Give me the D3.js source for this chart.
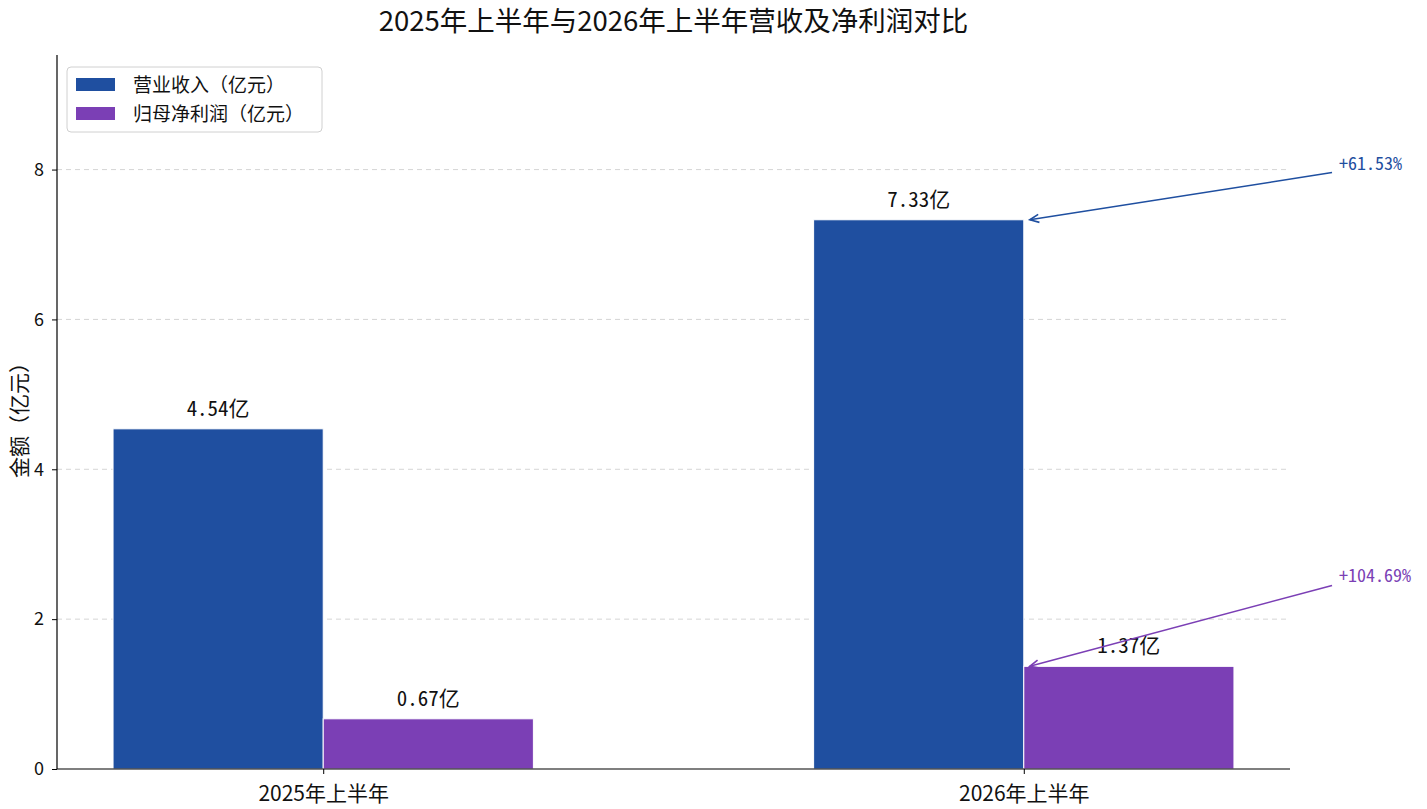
<!DOCTYPE html>
<html>
<head>
<meta charset="utf-8">
<script src="https://cdn.jsdelivr.net/npm/d3@7/dist/d3.min.js"></script>
<style>
  body { margin: 0; background: #fff; }
  svg { font-family: "Noto Sans CJK SC", "DejaVu Sans", sans-serif; }
  .num { font-feature-settings: "hwid" 1; }
</style>
</head>
<body>
<div id="chart"></div>
<script>
var periods = ["2025年上半年", "2026年上半年"];
var seriesNames = ["营业收入（亿元）", "归母净利润（亿元）"];
var revenue = [4.54, 7.33];
var netProfit = [0.67, 1.37];
var growthLabels = ["+61.53%", "+104.69%"];
var yTicks = [0, 2, 4, 6, 8];

var colors = ["#1f4fa0", "#7b3fb5"];

var W = 1427, H = 809;
var margin = {left: 57, top: 55, right: 137, bottom: 40};

var svg = d3.select("#chart").append("svg")
    .attr("width", W)
    .attr("height", H);

var x = d3.scaleLinear()
    .domain([-0.38, 1.38])
    .range([margin.left, W - margin.right]);

var y = d3.scaleLinear()
    .domain([0, d3.max(revenue) * 1.3])
    .range([H - margin.bottom, margin.top]);

var barW = 0.3;

// grid
svg.append("g").selectAll("line")
    .data(yTicks.slice(1))
    .enter().append("line")
    .attr("x1", x.range()[0]).attr("x2", x.range()[1])
    .attr("y1", function(d) { return y(d); })
    .attr("y2", function(d) { return y(d); })
    .attr("stroke", "#cccccc")
    .attr("stroke-width", 1)
    .attr("stroke-dasharray", "5,4")
    .attr("opacity", 0.8);

// bars + value labels
var series = [revenue, netProfit];
series.forEach(function(vals, s) {
    svg.append("g").selectAll("rect")
        .data(vals)
        .enter().append("rect")
        .attr("x", function(d, i) { return x(i - barW + s * barW); })
        .attr("y", function(d) { return y(d); })
        .attr("width", x(barW) - x(0))
        .attr("height", function(d) { return y(0) - y(d); })
        .attr("fill", colors[s])
        .attr("stroke", "#ffffff")
        .attr("stroke-width", 1);

    svg.append("g").selectAll("text")
        .data(vals)
        .enter().append("text")
        .attr("class", "num")
        .attr("x", function(d, i) { return x(i - barW / 2 + s * barW); })
        .attr("y", function(d) { return y(d) - 13; })
        .attr("text-anchor", "middle")
        .style("font-size", "21px")
        .attr("fill", "#111")
        .text(function(d) { return d.toFixed(2) + "亿"; });
});

// axes
var yAxis = d3.axisLeft(y).tickValues(yTicks).tickSize(5).tickPadding(8).tickFormat(d3.format("d"));
var gy = svg.append("g")
    .attr("transform", "translate(" + margin.left + ",0)")
    .call(yAxis);
gy.attr("font-family", null).attr("font-size", null);
gy.select(".domain").attr("d", "M0," + y.range()[1] + "V" + y.range()[0]).attr("stroke", "#000").attr("stroke-width", 1.2);
gy.selectAll("text").style("font-size", "18px").attr("fill", "#111");

var xAxis = d3.axisBottom(x).tickValues([0, 1]).tickSize(5).tickPadding(12)
    .tickFormat(function(d) { return periods[d]; });
var gx = svg.append("g")
    .attr("transform", "translate(0," + y(0) + ")")
    .call(xAxis);
gx.attr("font-family", null).attr("font-size", null);
gx.select(".domain").attr("d", "M" + x.range()[0] + ",0H" + x.range()[1]).attr("stroke", "#000").attr("stroke-width", 1.2);
gx.selectAll("text").style("font-size", "21px").attr("fill", "#111");

// y label
svg.append("text")
    .attr("transform", "translate(27," + ((y.range()[0] + y.range()[1]) / 2 + 3) + ") rotate(-90)")
    .attr("text-anchor", "middle")
    .style("font-size", "21px")
    .attr("fill", "#111")
    .text("金额（亿元）");

// title
svg.append("text")
    .attr("x", (x.range()[0] + x.range()[1]) / 2)
    .attr("y", 31)
    .attr("text-anchor", "middle")
    .style("font-size", "27.5px")
    .attr("fill", "#111")
    .text("2025年上半年与2026年上半年营收及净利润对比");

// growth annotations
var latest = [revenue[1], netProfit[1]];
var offsets = [0.67, 1.12];
latest.forEach(function(v, s) {
    var tx = x(1.45), ty = y(v + offsets[s]);
    var sx = tx - 7, sy = ty + 3;
    var ex = x(1.0) + 6, ey = y(v);
    svg.append("line")
        .attr("x1", sx).attr("y1", sy)
        .attr("x2", ex).attr("y2", ey)
        .attr("stroke", colors[s])
        .attr("stroke-width", 1.6);
    // open arrow head
    var ang = Math.atan2(sy - ey, sx - ex);
    var len = 10, spread = 0.42;
    svg.append("path")
        .attr("d", "M" + (ex + len * Math.cos(ang + spread)) + "," + (ey + len * Math.sin(ang + spread)) +
            "L" + ex + "," + ey +
            "L" + (ex + len * Math.cos(ang - spread)) + "," + (ey + len * Math.sin(ang - spread)))
        .attr("fill", "none")
        .attr("stroke", colors[s])
        .attr("stroke-width", 1.6);
    svg.append("text")
        .attr("class", "num")
        .attr("x", tx)
        .attr("y", ty)
        .style("font-size", "18px")
        .attr("fill", colors[s])
        .text(growthLabels[s]);
});

// legend
var lg = svg.append("g").attr("transform", "translate(67,67)");
lg.append("rect")
    .attr("width", 255).attr("height", 65)
    .attr("rx", 4)
    .attr("fill", "#fff")
    .attr("fill-opacity", 0.8)
    .attr("stroke", "#d0d0d0");
seriesNames.forEach(function(name, s) {
    lg.append("rect")
        .attr("x", 9).attr("y", 11 + s * 29)
        .attr("width", 39).attr("height", 13)
        .attr("fill", colors[s]);
    lg.append("text")
        .attr("x", 66).attr("y", 25 + s * 29)
        .style("font-size", "19px")
        .attr("fill", "#111")
        .text(name);
});
</script>
</body>
</html>
